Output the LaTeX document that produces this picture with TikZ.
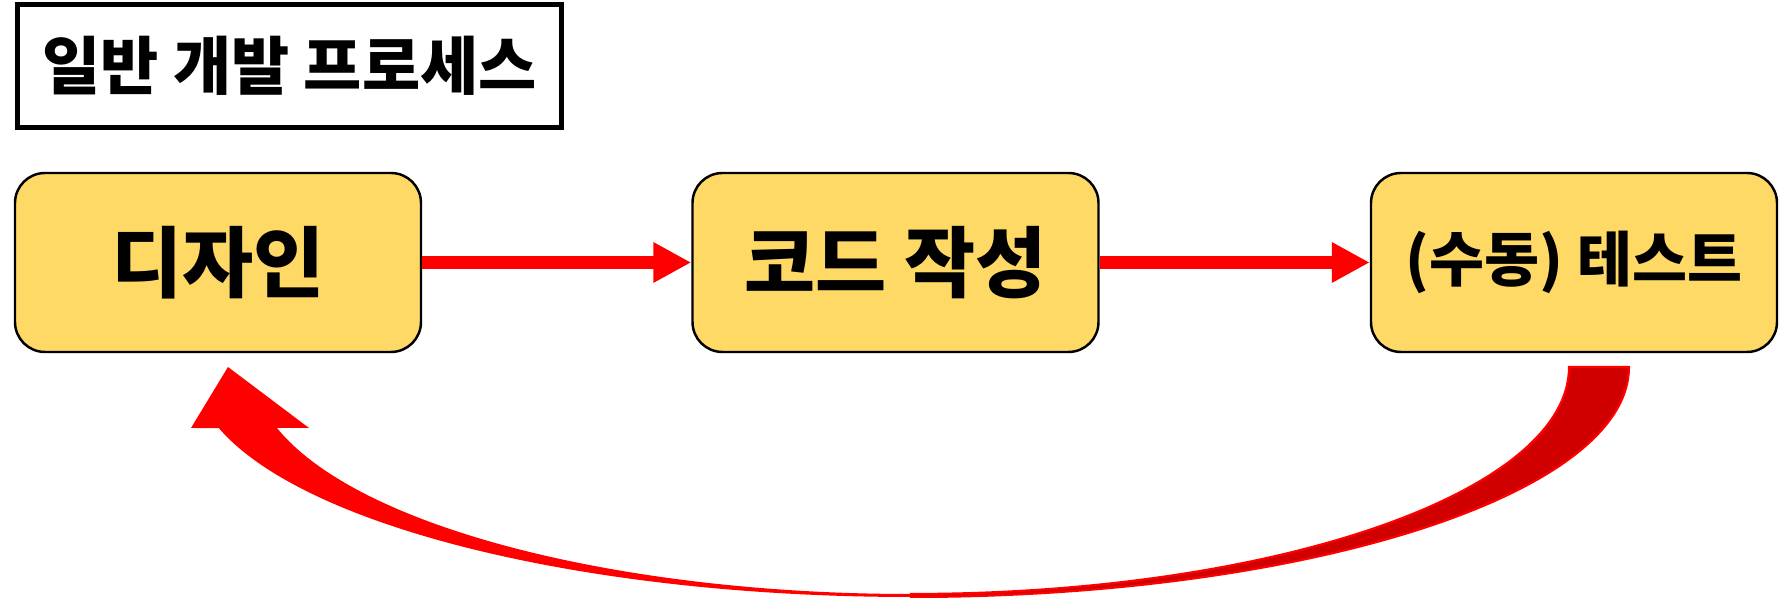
\documentclass[tikz,border=0pt]{standalone}
\usepackage{fontspec}
\setmainfont{Noto Sans CJK KR}
\usetikzlibrary{arrows.meta,calc}
\definecolor{stagefill}{HTML}{FFD966}
\definecolor{backred}{RGB}{208,0,0}

\begin{document}
\begin{tikzpicture}[
  stage/.style={draw=black, line width=0.7pt, fill=stagefill, rounded corners=0.3cm,
                minimum width=4.06cm, minimum height=1.79cm,
                font=\bfseries\fontsize{22}{26}\selectfont},
  flow/.style={red, line width=3.6pt, -{Triangle[length=3.8mm,width=3.8mm]}}]
\useasboundingbox (0,0) rectangle (17.86,5.98);
\node[draw, line width=1.5pt, minimum width=5.44cm, minimum height=1.23cm,
      font=\bfseries\fontsize{18}{22}\selectfont] (title) at (2.895,5.32) {일반 개발 프로세스};
\node[stage] (design) at (2.18,3.355) {디자인};
\node[stage] (code) at (8.955,3.355) {코드 작성};
\node[stage, font=\bfseries\fontsize{17}{20}\selectfont] (test) at (15.74,3.355) {(수동) 테스트};
\draw[flow] (design) -- (code);
\draw[flow] (code) -- (test);
% way back from the test to the design
\coordinate (loop) at (9.11,2.31);
\fill[red] (16.29,2.31)
        arc[start angle=0, end angle=-164.6, x radius=7.18cm, y radius=2.30cm]
        -- (1.91,1.70) -- (2.28,2.31) -- (3.09,1.70) -- (2.77,1.70)
        arc[start angle=-164.4, end angle=0, x radius=6.58cm, y radius=2.27cm] -- cycle;
\filldraw[fill=backred, draw=red, line width=0.6pt] ($(loop)+(0,-2.30)$)
        arc[start angle=-90, end angle=0, x radius=7.18cm, y radius=2.30cm]
        -- (15.69,2.31)
        arc[start angle=0, end angle=-90, x radius=6.58cm, y radius=2.27cm] -- cycle;
\end{tikzpicture}
\end{document}
